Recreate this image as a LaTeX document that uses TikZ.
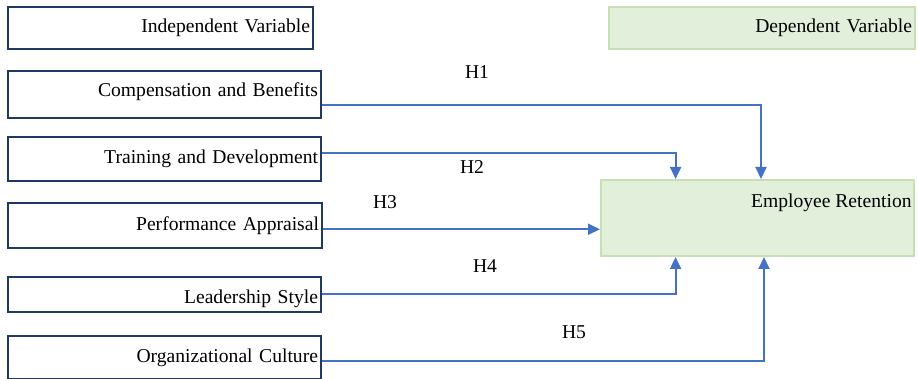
\documentclass[tikz,border=0pt]{standalone}
\usepackage{fontspec}
\setmainfont{Liberation Serif}
\usetikzlibrary{arrows.meta,calc}
\definecolor{ivline}{HTML}{203864}
\definecolor{dvfill}{HTML}{E2EFDA}
\definecolor{dvline}{HTML}{C5E0B4}
\definecolor{linkblue}{HTML}{4472C4}
\tikzset{
  ivbox/.style={draw=ivline,line width=1pt,anchor=north west,align=right,inner xsep=1.5pt,inner ysep=0pt},
  dvbox/.style={draw=dvline,fill=dvfill,line width=1pt,anchor=north west,align=right,inner xsep=1.5pt,inner ysep=0pt},
  link/.style={draw=linkblue,line width=1pt,->}
}

\begin{document}
\begin{tikzpicture}[x=0.5pt,y=-0.5pt,>={Triangle[length=6pt,width=5.5pt]},font=\fontsize{9.8}{12}\selectfont]
\useasboundingbox (0,0) rectangle (918,379);
% variable headings
\node[ivbox,text width=149.5pt,minimum height=21pt] (iv) at (7,6) {Independent Variable};
\node[dvbox,text width=150pt,minimum height=21pt] (dv) at (608,6) {Dependent Variable};
% independent variables
\node[ivbox,text width=153.5pt,minimum height=23.5pt,text depth=5pt] (cb) at (7,70) {Compensation and Benefits};
\node[ivbox,text width=153.5pt,minimum height=22pt] (td) at (7,136) {Training and Development};
\node[ivbox,text width=154pt,minimum height=22.5pt] (pa) at (7,202) {Performance Appraisal};
\node[ivbox,text width=153.5pt,minimum height=17.5pt,text height=11pt] (ls) at (7,276) {Leadership Style};
\node[ivbox,text width=153.5pt,minimum height=21.5pt] (oc) at (7,335) {Organizational Culture};
% dependent variable
\node[dvbox,minimum width=156.5pt,minimum height=38pt,
  label={[anchor=north east,inner sep=1.5pt,yshift=-6pt]north east:Employee Retention}] (er) at (600,179) {};
% hypotheses
\draw[link] ($(cb.north east)!0.72!(cb.south east)$) -| ([xshift=1.75pt]er.north);
\draw[link] ($(td.north east)!0.36!(td.south east)$) -| ($(er.north west)!0.24!(er.north east)$);
\draw[link] ($(pa.north east)!0.58!(pa.south east)$) -- (er.west |- {$(pa.north east)!0.58!(pa.south east)$});
\draw[link] (ls.east) -| ($(er.south west)!0.24!(er.south east)$);
\draw[link] ($(oc.north east)!0.58!(oc.south east)$) -| ([xshift=3.25pt]er.south);
% labels
\node (h1) at (477,72) {H1};
\node (h2) at (472,167) {H2};
\node (h3) at (385,202) {H3};
\node (h4) at (485,266) {H4};
\node (h5) at (574,332) {H5};
\end{tikzpicture}
\end{document}
